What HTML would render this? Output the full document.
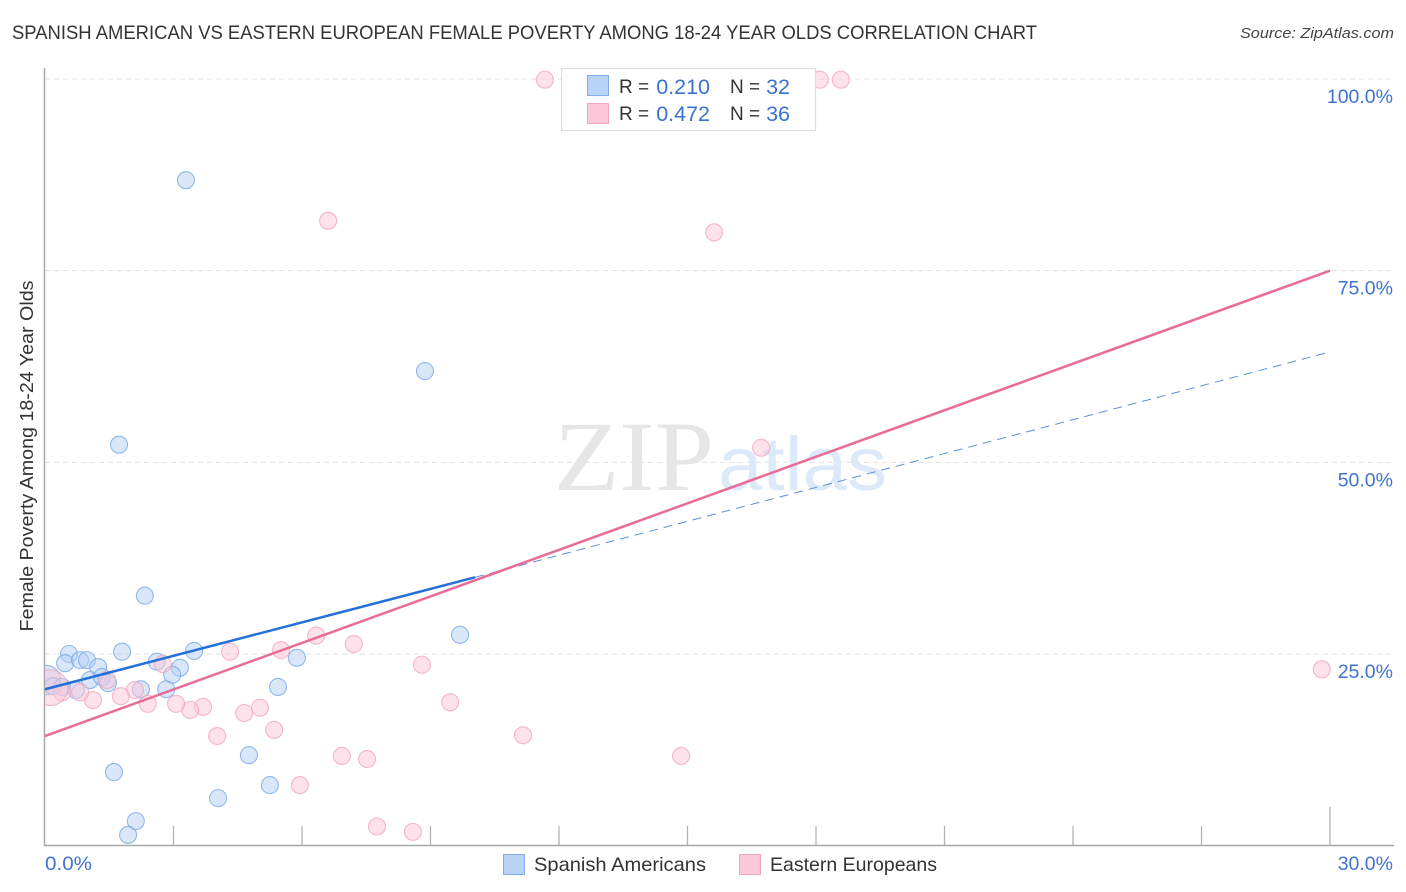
<!DOCTYPE html>
<html lang="en">
<head>
<meta charset="utf-8">
<title>Spanish American vs Eastern European Female Poverty Correlation Chart</title>
<style>
html,body{margin:0;padding:0;background:#fff;}
svg{display:block;font-family:"Liberation Sans",sans-serif;}
</style>
</head>
<body>
<svg id="chart" xmlns="http://www.w3.org/2000/svg" width="1406" height="892" viewBox="0 0 1406 892">
  <defs>
    <clipPath id="plot-clip"><rect x="45" y="60" width="1349" height="786"/></clipPath>
  </defs>
  <rect x="0" y="0" width="1406" height="892" fill="#ffffff"/>
  <text x="12" y="39" font-size="19" fill="#333333" textLength="1025" lengthAdjust="spacingAndGlyphs">SPANISH AMERICAN VS EASTERN EUROPEAN FEMALE POVERTY AMONG 18-24 YEAR OLDS CORRELATION CHART</text>
  <text x="1394" y="38" font-size="15" font-style="italic" fill="#444" text-anchor="end" textLength="154" lengthAdjust="spacingAndGlyphs">Source: ZipAtlas.com</text>
  <g id="grid"></g>
  <g>
    <text x="554" y="490" font-family="'Liberation Serif',serif" font-size="100" fill="#e6e6e6" textLength="160" lengthAdjust="spacingAndGlyphs">ZIP</text>
    <text x="718" y="490" font-size="76" fill="#dce9f9" textLength="169" lengthAdjust="spacingAndGlyphs">atlas</text>
  </g>
  <g id="axes"></g>
  <g id="points" clip-path="url(#plot-clip)"></g>
  <g id="trends"></g>
  <text transform="translate(33,456) rotate(-90)" font-size="18.5" fill="#333333" text-anchor="middle" textLength="351" lengthAdjust="spacingAndGlyphs">Female Poverty Among 18-24 Year Olds</text>
  <g id="tick-labels"></g>

  <g>
    <rect x="561.5" y="68.5" width="254" height="62" fill="#ffffff" stroke="#dddddd" stroke-width="1.2"/>
    <rect x="587.5" y="75.5" width="21" height="20" fill="#b8d3f6" stroke="#7eaee8"/>
    <rect x="587.5" y="103.5" width="21" height="20" fill="#fcc8da" stroke="#f1a5c0"/>
    <text x="619" y="93" font-size="19" fill="#333">R =</text>
    <text x="710" y="94" font-size="21.5" fill="#3a72d0" text-anchor="end">0.210</text>
    <text x="730" y="93" font-size="19" fill="#333">N =</text>
    <text x="790" y="94" font-size="21.5" fill="#3a72d0" text-anchor="end">32</text>
    <text x="619" y="120" font-size="19" fill="#333">R =</text>
    <text x="710" y="121" font-size="21.5" fill="#3a72d0" text-anchor="end">0.472</text>
    <text x="730" y="120" font-size="19" fill="#333">N =</text>
    <text x="790" y="121" font-size="21.5" fill="#3a72d0" text-anchor="end">36</text>
  </g>

  <g>
    <rect x="503.5" y="854.5" width="21" height="20" fill="#b8d3f6" stroke="#7eaee8"/>
    <text x="534" y="871" font-size="19.5" fill="#333" textLength="172" lengthAdjust="spacingAndGlyphs">Spanish Americans</text>
    <rect x="739.5" y="854.5" width="21" height="20" fill="#fcc8da" stroke="#f1a5c0"/>
    <text x="770" y="871" font-size="19.5" fill="#333" textLength="167" lengthAdjust="spacingAndGlyphs">Eastern Europeans</text>
  </g>
</svg>
<script>
const blueX = [3.29,8.87,1.73,2.33,9.69,1.80,3.48,0.56,0.47,0.82,0.98,1.24,2.61,3.15,2.97,1.05,1.33,1.47,2.24,2.83,5.44,5.88,0.02,0.19,0.40,0.72,4.76,1.61,4.04,5.25,2.12,1.94];
const blueY = [86.8,61.9,52.3,32.6,27.5,25.3,25.4,25.0,23.8,24.2,24.2,23.3,24.0,23.2,22.3,21.6,22.0,21.2,20.4,20.4,20.7,24.5,21.6,20.8,20.7,20.3,11.8,9.6,6.2,7.9,3.2,1.4];
const blueWeight = [1,1,1,1,1,1,1,1,1,1,1,1,1,1,1,1,1,1,1,1,1,1,3,1,1,1,1,1,1,1,1,1];
const pinkX = [11.67,18.09,18.58,6.61,15.62,16.72,29.81,8.80,7.21,6.33,5.51,4.32,2.75,1.45,9.46,11.16,14.85,6.93,7.52,7.75,8.59,5.95,5.35,5.02,4.65,4.02,3.69,3.39,3.06,2.40,2.10,1.77,1.12,0.82,0.40,0.12];
const pinkY = [99.9,99.9,99.9,81.5,80.0,51.9,23.0,23.6,26.3,27.4,25.5,25.3,23.7,21.6,18.7,14.4,11.7,11.7,11.3,2.5,1.8,7.9,15.1,18.0,17.3,14.3,18.1,17.7,18.5,18.5,20.3,19.5,19.0,20.0,20.0,20.6];
const pinkWeight = [1,1,1,1,1,1,1,1,1,1,1,1,1,1,1,1,1,1,1,1,1,1,1,1,1,1,1,1,1,1,1,1,1,1,1,4.4];
const blueTrendX = [0,10.04,30];
const blueTrendY = [20.4,35.0,64.4];
const pinkTrendX = [0,30];
const pinkTrendY = [14.3,75.0];
const yGridValues = [25,50,75,100];
const yTickLabels = ["25.0%","50.0%","75.0%","100.0%"];
const xTickValues = [0,3,6,9,12,15,18,21,24,27,30];
const xEndLabels = ["0.0%","30.0%"];

const NS = "http://www.w3.org/2000/svg";
const xPos = v => 45 + v * (1330 - 45) / 30;
const yPos = v => 845.67 - v * 7.667;
const rightEdge = 1394;

function make(tag, attrs, parent) {
  const el = document.createElementNS(NS, tag);
  for (const k in attrs) el.setAttribute(k, attrs[k]);
  parent.appendChild(el);
  return el;
}

const grid = document.getElementById("grid");
yGridValues.forEach(v => {
  const ln = make("line", {x1: 45, x2: rightEdge, y1: yPos(v), y2: yPos(v), stroke: "#e0e0e0", "stroke-width": 1, "stroke-dasharray": "5 4"}, grid);
  
  
});

const axes = document.getElementById("axes");
const yAxis = make("line", {x1: 44.5, x2: 44.5, y1: 68, y2: 846, stroke: "#a8a8a8", "stroke-width": 1.5}, axes);


const xAxis = make("line", {x1: 44, x2: rightEdge, y1: 845.5, y2: 845.5, stroke: "#a8a8a8", "stroke-width": 1.5}, axes);


xTickValues.forEach((v, i) => {
  if (i === 0) return;
  const top = i === xTickValues.length - 1 ? 807 : 826;
  const t = make("line", {x1: xPos(v), x2: xPos(v), y1: top, y2: 845, stroke: "#b4b4b4", "stroke-width": 1.3}, axes);
  
  
});

const points = document.getElementById("points");
function drawSeries(xs, ys, ws, fill, stroke, name) {
  xs.forEach((x, i) => {
    const c = make("circle", {cx: xPos(x), cy: yPos(ys[i]), r: 8.5 * Math.sqrt(ws[i]), fill: fill, "fill-opacity": 0.5, stroke: stroke, "stroke-opacity": 0.8, "stroke-width": 1.1}, points);
    
    
  });
}
drawSeries(blueX, blueY, blueWeight, "#b4d0f4", "#78a9e6", "spanish-american-point");
drawSeries(pinkX, pinkY, pinkWeight, "#fbc6d8", "#f0a6c1", "eastern-european-point");

const trends = document.getElementById("trends");
const blueDash = make("line", {x1: xPos(blueTrendX[1]), y1: yPos(blueTrendY[1]), x2: xPos(blueTrendX[2]), y2: yPos(blueTrendY[2]), stroke: "#5f8fd8", "stroke-width": 1, "stroke-dasharray": "9 6"}, trends);


const blueSolid = make("line", {x1: xPos(blueTrendX[0]), y1: yPos(blueTrendY[0]), x2: xPos(blueTrendX[1]), y2: yPos(blueTrendY[1]), stroke: "#2470d8", "stroke-width": 2.5}, trends);


const pinkSolid = make("line", {x1: xPos(pinkTrendX[0]), y1: yPos(pinkTrendY[0]), x2: xPos(pinkTrendX[1]), y2: yPos(pinkTrendY[1]), stroke: "#e96c97", "stroke-width": 2.5}, trends);



const labels = document.getElementById("tick-labels");
yGridValues.forEach((v, i) => {
  const t = make("text", {x: 1393, y: yPos(v) + 24, "font-size": 19.5, fill: "#3f72d2", "text-anchor": "end"}, labels);
  t.textContent = yTickLabels[i];
  
  
});
const x0Label = make("text", {x: 45, y: 870, "font-size": 19.5, fill: "#3f72d2", textLength: 47, lengthAdjust: "spacingAndGlyphs"}, labels);
x0Label.textContent = xEndLabels[0];


const x1Label = make("text", {x: 1393, y: 870, "font-size": 19.5, fill: "#3f72d2", "text-anchor": "end"}, labels);
x1Label.textContent = xEndLabels[1];


</script>
</body>
</html>
